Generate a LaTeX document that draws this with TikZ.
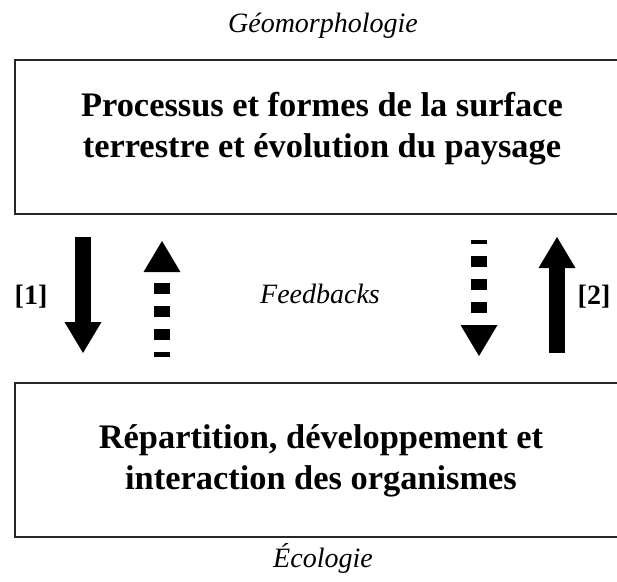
\documentclass[tikz,border=0pt]{standalone}
\usepackage{fontspec}
\setmainfont{Liberation Serif}
\usetikzlibrary{arrows.meta}
\begin{document}
\begin{tikzpicture}[x=1pt,y=1pt,
  panel/.style={draw=black!85, line width=1.8pt, minimum width=626pt, minimum height=154pt, inner sep=0pt, anchor=north west},
  paneltext/.style={font=\fontsize{34.4}{41}\selectfont\bfseries, align=center, anchor=north, inner sep=0pt},
  caption/.style={font=\fontsize{28}{32}\selectfont\itshape, anchor=base, inner sep=0pt},
  tag/.style={font=\fontsize{28}{32}\selectfont\bfseries, anchor=base, inner sep=0pt},
  headtip/.style={-{Triangle[width=37pt,length=31pt,line width=0pt]}},
  bigarrow/.style={line width=16pt, headtip},
  fbarrow/.style={line width=16pt, dash pattern=on 11pt off 12pt, headtip},
]
\useasboundingbox (0,0) rectangle (617,-581);
\clip (0,0) rectangle (617,-581);

% titles
\node[caption] (geotitle) at (323,-32) {Géomorphologie};
\node[caption] (ecotitle) at (323,-567) {Écologie};

% panels
\node[panel] (geo) at (14,-59) {};
\node[paneltext] (geotext) at (322,-91.6) {Processus et formes de la surface\\terrestre et évolution du paysage};
\node[panel] (eco) at (14,-382) {};
\node[paneltext] (ecotext) at (321,-424.5) {Répartition, développement et\\interaction des organismes};

% arrow end points
\coordinate (a1s) at (83,-237);
\coordinate (a1e) at (83,-353);
\coordinate (f1s) at (162,-357);
\coordinate (f1e) at (162,-241);
\coordinate (f2s) at (479,-240);
\coordinate (f2e) at (479,-356);
\coordinate (a2s) at (557,-353);
\coordinate (a2e) at (557,-237);

\draw[bigarrow] (a1s) -- (a1e);
\draw[fbarrow, dash phase=6pt] (f1s) -- (f1e);
\draw[fbarrow, dash phase=7pt] (f2s) -- (f2e);
\draw[bigarrow] (a2s) -- (a2e);

% labels
\node[tag] (t1) at (31,-304) {[1]};
\node[tag] (t2) at (594,-304) {[2]};
\node[caption] (fb) at (320,-303) {Feedbacks};
\end{tikzpicture}
\end{document}
